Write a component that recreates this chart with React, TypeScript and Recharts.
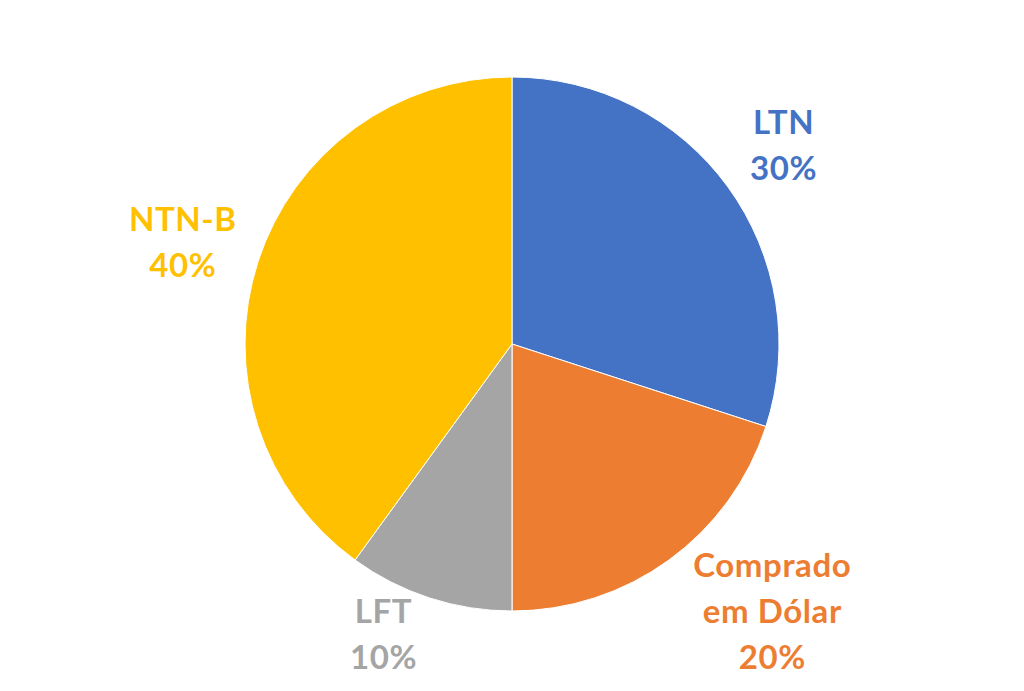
import { Cell, Pie, PieChart } from 'recharts';

const categories = ['LTN', 'Comprado em Dólar', 'LFT', 'NTN-B'];
const shares = [30, 20, 10, 40];
const labelLines = [['LTN', '30%'], ['Comprado', 'em Dólar', '20%'], ['LFT', '10%'], ['NTN-B', '40%']];
const colors = ['#4472C4', '#ED7D31', '#A5A5A5', '#FFC000'];

// label placement: distance from center and angle nudge (deg), like Excel best fit
const labelDist = [337, 372, 316, 345];
const labelNudge = [0.3, 8.4, -6, 0.6];
const LINE_H = 46;

const data = categories.map((name, i) => ({ name, value: shares[i] }));

const RADIAN = Math.PI / 180;

const renderLabel = (props: any) => {
  const { cx, cy, midAngle, index } = props;
  const a = (midAngle + labelNudge[index]) * RADIAN;
  const x = cx + labelDist[index] * Math.cos(a);
  const y = cy - labelDist[index] * Math.sin(a);
  const lines = labelLines[index];
  const startY = y - ((lines.length - 1) * LINE_H) / 2;
  return (
    <text
      x={x}
      y={startY}
      fill={colors[index]}
      textAnchor="middle"
      dominantBaseline="central"
      fontFamily="Lato, 'Open Sans', sans-serif"
      fontWeight={700}
      fontSize={33}
      letterSpacing={0.6}
    >
      {lines.map((l, j) => (
        <tspan key={j} x={x} y={startY + j * LINE_H}>
          {l}
        </tspan>
      ))}
    </text>
  );
};

export default function App() {
  return (
    <div style={{ position: 'absolute', left: 0, top: 0, width: 1024, height: 691, background: '#fff' }}>
      <PieChart width={1024} height={691} margin={{ top: 0, right: 0, bottom: 0, left: 0 }}>
        <Pie
          data={data}
          dataKey="value"
          nameKey="name"
          cx={512}
          cy={344}
          outerRadius={267}
          startAngle={90}
          endAngle={-270}
          stroke="#fff"
          strokeWidth={1}
          label={renderLabel}
          labelLine={false}
          isAnimationActive={false}
        >
          {data.map((d, i) => (
            <Cell key={d.name} fill={colors[i]} />
          ))}
        </Pie>
      </PieChart>
    </div>
  );
}
